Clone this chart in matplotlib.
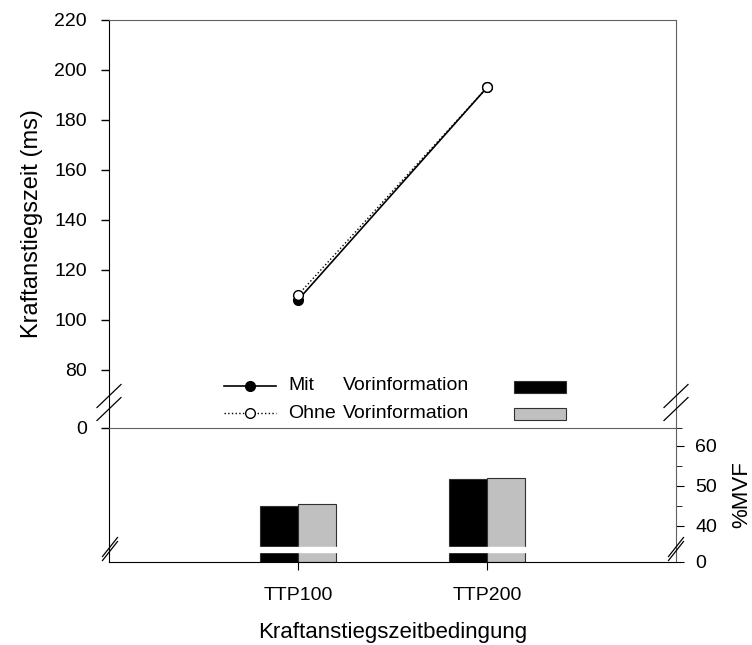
import matplotlib.pyplot as plt
from matplotlib.lines import Line2D
from matplotlib.patches import Rectangle

plt.rcParams['font.family'] = ['Liberation Sans', 'DejaVu Sans']

# data
conditions = ['TTP100', 'TTP200']
x_pos = [1, 2]
zeit_mit = [108, 193]
zeit_ohne = [110, 193]
mvf_mit = [45.1, 51.7]
mvf_ohne = [45.4, 52.1]

W, H = 752, 645
fig = plt.figure(figsize=(W / 100, H / 100), dpi=100)


def fx(px):
    return px / W


def fy(py):
    return 1 - py / H


left, right = 109, 676
ax = fig.add_axes([fx(left), fy(428), fx(right - left), fy(20) - fy(428)])
ax2 = fig.add_axes([fx(left), fy(562), fx(right - left), fy(428) - fy(562)])

grey = '#606060'
tick_fs = 14
lab_fs = 17

# top panel: rise time lines
ax.plot(x_pos, zeit_mit, color='black', lw=1.2, marker='o', ms=7,
        mfc='black', mec='black', zorder=3)
ax.plot(x_pos, zeit_ohne, color='black', lw=1.0, ls=':', marker='o', ms=7,
        mfc='white', mec='black', zorder=4)
ax.set_xlim(0, 3)
y0 = 80 - 58 / 2.5
ax.set_ylim(y0, 220)
ax.set_yticks([y0] + list(range(80, 221, 20)))
ax.set_yticklabels(['0'] + [str(v) for v in range(80, 221, 20)])
ax.set_xticks([])
ax.tick_params(axis='y', direction='out', length=6, width=1, labelsize=tick_fs, pad=10)
ax.spines['bottom'].set_visible(False)
ax.spines['left'].set_color('black')
ax.spines['top'].set_color(grey)
ax.spines['right'].set_color(grey)
ax.set_ylabel('Kraftanstiegszeit (ms)', fontsize=lab_fs, labelpad=8)
ax.patch.set_alpha(0)

# bottom panel: %MVF bars
ybot = 31
bw = 0.2
ax2.bar([p - bw / 2 for p in x_pos], [v - ybot for v in mvf_mit], bw, bottom=ybot,
        color='black', edgecolor='#303030', lw=0.8, zorder=1)
ax2.bar([p + bw / 2 for p in x_pos], [v - ybot for v in mvf_ohne], bw, bottom=ybot,
        color='#c0c0c0', edgecolor='#303030', lw=0.8, zorder=1)
ax2.axhspan(33.5, 34.75, color='white', zorder=2)
ax2.set_xlim(0, 3)
ax2.set_ylim(ybot, 64.5)
ax2.set_xticks(x_pos)
ax2.set_xticklabels(conditions)
ax2.tick_params(axis='x', direction='out', length=6, labelsize=tick_fs, pad=12)
ax2.yaxis.tick_right()
ax2.yaxis.set_label_position('right')
ax2.set_yticks([ybot, 40, 50, 60])
ax2.set_yticklabels(['0', '40', '50', '60'])
ax2.set_yticks([45, 55, 65 - 0.5], minor=True)
ax2.tick_params(axis='y', which='major', direction='out', length=6, labelsize=tick_fs, pad=8)
ax2.tick_params(axis='y', which='minor', direction='out', length=4)
ax2.spines['top'].set_color(grey)
ax2.spines['right'].set_color(grey)
ax2.spines['left'].set_color('black')
ax2.spines['bottom'].set_color('black')
ax2.set_ylabel('%MVF', fontsize=16, labelpad=10)
ax2.set_xlabel('Kraftanstiegszeitbedingung', fontsize=16, labelpad=13)

# axis break marks
def brk(x, ys, dx, dy):
    for yy in ys:
        fig.add_artist(Line2D([fx(x - dx), fx(x + dx)], [fy(yy + dy), fy(yy - dy)],
                              color='black', lw=0.9))

brk(109, [396, 409], 12, 11.5)
brk(676, [396, 409], 12, 11.5)
brk(110, [547, 551], 7.5, 9.5)
brk(676, [547, 551], 7.5, 9.5)

# legend
fig.add_artist(Line2D([fx(224), fx(276)], [fy(386), fy(386)], color='black', lw=1.2))
fig.add_artist(Line2D([fx(250)], [fy(386)], marker='o', ms=7, color='black'))
fig.add_artist(Line2D([fx(224), fx(276)], [fy(413), fy(413)], color='black', lw=1.0, ls=':'))
fig.add_artist(Line2D([fx(250)], [fy(413)], marker='o', ms=7, mfc='white', mec='black'))
fig.text(fx(288), fy(386), 'Mit', fontsize=tick_fs, va='center')
fig.text(fx(343), fy(386), 'Vorinformation', fontsize=tick_fs, va='center')
fig.text(fx(288), fy(413), 'Ohne', fontsize=tick_fs, va='center')
fig.text(fx(343), fy(413), 'Vorinformation', fontsize=tick_fs, va='center')
fig.add_artist(Rectangle((fx(514), fy(393)), fx(52), fy(381) - fy(393),
                         facecolor='black', edgecolor='#303030', lw=0.8))
fig.add_artist(Rectangle((fx(514), fy(420)), fx(52), fy(408) - fy(420),
                         facecolor='#c0c0c0', edgecolor='#303030', lw=0.8))

plt.savefig('out.png', dpi=100)
